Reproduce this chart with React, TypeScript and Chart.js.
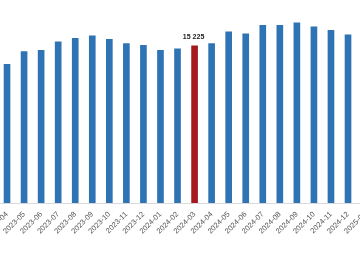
import React, { useEffect, useRef } from "react";
import { Chart, registerables } from "chart.js";

Chart.register(...registerables);

const months = [
  "2023-04", "2023-05", "2023-06", "2023-07", "2023-08", "2023-09", "2023-10",
  "2023-11", "2023-12", "2024-01", "2024-02", "2024-03", "2024-04", "2024-05",
  "2024-06", "2024-07", "2024-08", "2024-09", "2024-10", "2024-11", "2024-12",
  "2025-01",
];

const values: (number | null)[] = [
  13450, 14675, 14810, 15615, 15975, 16195, 15875,
  15450, 15295, 14810, 14935, 15225, 15450, 16585,
  16390, 17235, 17215, 17460, 17070, 16730, 16295,
  null,
];

const highlightMonth = "2024-03";
const highlightLabel = "15 225";

const BLUE = "#2E74B5";
const RED = "#A3191E";

const valueLabelPlugin = {
  id: "valueLabel",
  afterDatasetsDraw(chart: any) {
    const idx = months.indexOf(highlightMonth);
    const meta = chart.getDatasetMeta(0);
    const bar = meta.data[idx];
    if (!bar) return;
    const ctx = chart.ctx;
    ctx.save();
    ctx.font = "bold 7px 'Liberation Sans', Arial, sans-serif";
    ctx.fillStyle = "#222";
    ctx.textAlign = "center";
    ctx.textBaseline = "bottom";
    ctx.fillText(highlightLabel, bar.x - 1, bar.y - 5);
    ctx.restore();
  },
};

export default function App() {
  const ref = useRef<HTMLCanvasElement | null>(null);
  useEffect(() => {
    if (!ref.current) return;
    const chart = new Chart(ref.current, {
      type: "bar",
      data: {
        labels: months,
        datasets: [
          {
            data: values,
            backgroundColor: months.map((m) => (m === highlightMonth ? RED : BLUE)),
            barThickness: 6,
          },
        ],
      },
      options: {
        animation: false,
        responsive: false,
        maintainAspectRatio: false,
        layout: { padding: { left: 18.5, right: 26.4, top: 7, bottom: 0 } },
        plugins: { legend: { display: false }, tooltip: { enabled: false } },
        scales: {
          x: {
            grid: { display: false, drawTicks: false },
            border: { display: true, color: "#d9d9d9", width: 1 },
            ticks: {
              autoSkip: false,
              minRotation: 45,
              maxRotation: 45,
              padding: 7,
              color: "#555",
              font: { size: 7.5, family: "'Liberation Sans', Arial, sans-serif" },
            },
            afterFit: (scale: any) => {
              scale.height = 67;
              scale.paddingLeft = 0;
              scale.paddingRight = 0;
            },
          },
          y: { display: false, min: 0, max: 19000 },
        },
      },
      plugins: [valueLabelPlugin],
    });
    return () => chart.destroy();
  }, []);
  return (
    <div style={{ position: "fixed", left: 0, top: 0, width: 360, height: 270, overflow: "hidden", background: "#fff" }}>
      <canvas ref={ref} width={420} height={270} style={{ position: "absolute", left: -20, top: 0, width: 420, height: 270 }} />
    </div>
  );
}
